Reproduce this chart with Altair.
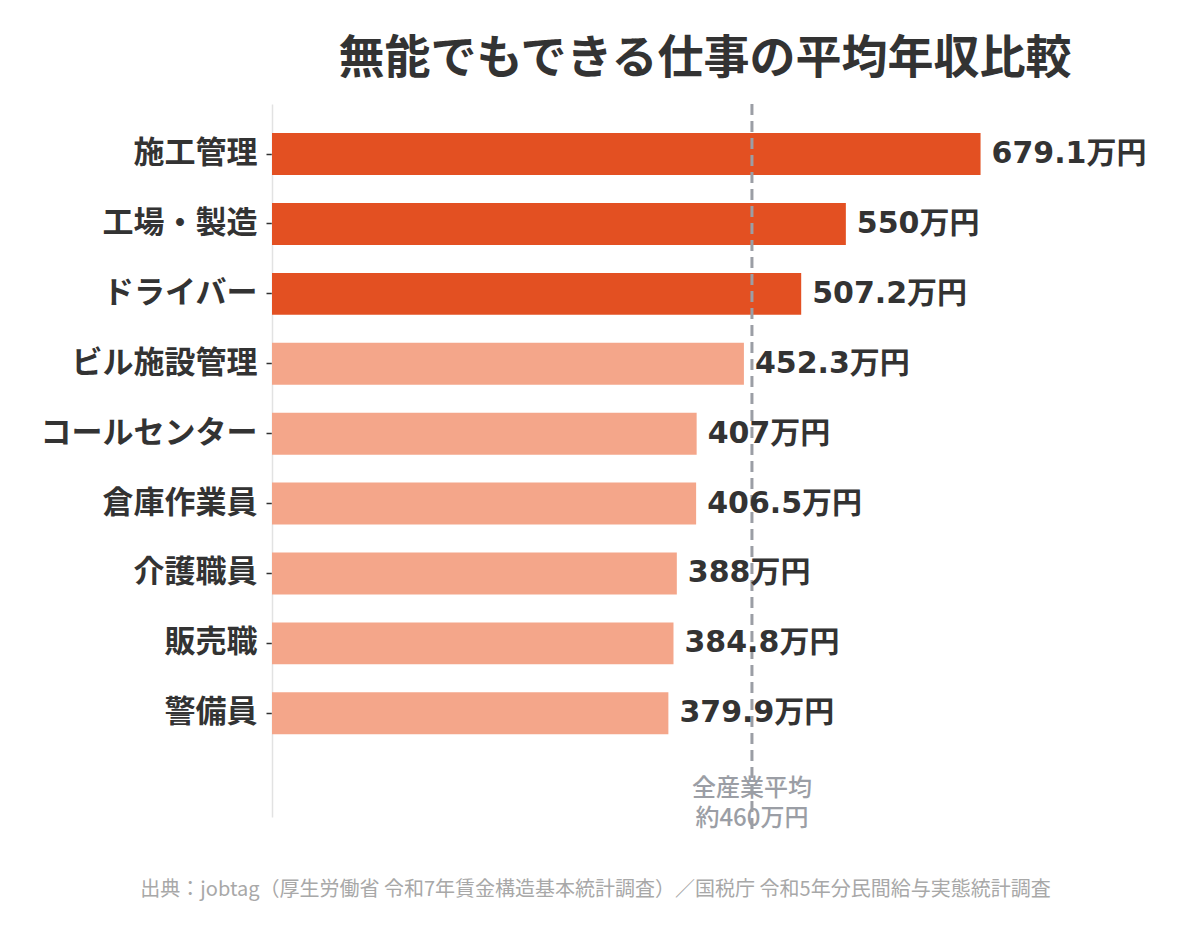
import altair as alt
import pandas as pd

# Job categories and average annual income (万円)
jobs = ["施工管理", "工場・製造", "ドライバー", "ビル施設管理", "コールセンター",
        "倉庫作業員", "介護職員", "販売職", "警備員"]
salaries = [679.1, 550, 507.2, 452.3, 407, 406.5, 388, 384.8, 379.9]
groups = ["上位", "上位", "上位", "その他", "その他", "その他", "その他", "その他", "その他"]

# All-industry average
average = 460
average_label = ["全産業平均", f"約{average}万円"]

source_note = "出典：jobtag（厚生労働省 令和7年賃金構造基本統計調査）／国税庁 令和5年分民間給与実態統計調査"
chart_title = "無能でもできる仕事の平均年収比較"

FONT = "Noto Sans CJK JP"
NUM_FONT = "DejaVu Sans, Noto Sans CJK JP"
W, H = 866, 713

df = pd.DataFrame({"job": jobs, "salary": salaries, "group": groups})
df["label"] = [f"{v:g}万円" for v in salaries]

avg_df = pd.DataFrame({"avg": [average], "text": [average_label]})

x_scale = alt.Scale(domain=[0, 830], nice=False)
y_enc = alt.Y(
    "job:N",
    sort=jobs,
    scale=alt.Scale(paddingInner=0.4, paddingOuter=0.8, align=0.26),
    axis=alt.Axis(
        title=None,
        labelFont=FONT,
        labelFontSize=31,
        labelFontWeight="bold",
        labelColor="#333333",
        labelLimit=500,
        labelPadding=9,
        tickSize=6,
        tickColor="#333333",
        tickWidth=1.5,
        domainColor="#e2e2e2",
        domainWidth=1.5,
        grid=False,
    ),
)

bars = alt.Chart(df).mark_bar().encode(
    y=y_enc,
    x=alt.X(
        "salary:Q",
        scale=x_scale,
        axis=alt.Axis(
            labels=False, ticks=False, domain=False, grid=False,
            title=source_note,
            titleFont=FONT,
            titleFontSize=20,
            titleFontWeight="normal",
            titleColor="#a8a8a8",
            titleX=323,
            titleY=72,
            titleAlign="center",
            titleBaseline="middle",
        ),
    ),
    color=alt.Color(
        "group:N",
        scale=alt.Scale(domain=["上位", "その他"], range=["#e35022", "#f4a68a"]),
        legend=None,
    ),
)

values = alt.Chart(df).mark_text(
    align="left", baseline="middle", dx=11,
    font=NUM_FONT, fontSize=30, fontWeight="bold", color="#333333",
).encode(
    y=alt.Y("job:N", sort=jobs),
    x=alt.X("salary:Q", scale=x_scale),
    text="label:N",
)

avg_rule = alt.Chart(avg_df).mark_rule(
    color="#9b9ea5", strokeWidth=3, strokeDash=[11, 6]
).encode(
    x=alt.X("avg:Q", scale=x_scale),
    y=alt.value(0),
    y2=alt.value(H + 14),
)

avg_text = alt.Chart(avg_df).mark_text(
    align="center", baseline="middle", lineHeight=30,
    font=FONT, fontSize=24, fontWeight=500, color="#9b9ea5",
).encode(
    x=alt.X("avg:Q", scale=x_scale),
    y=alt.value(H - 28),
    text="text",
)

chart = (
    alt.layer(bars, avg_rule, values, avg_text)
    .properties(
        width=W,
        height=H,
        background="white",
        padding={"left": 40, "top": 35, "right": 10, "bottom": 20},
        title=alt.TitleParams(
            chart_title,
            font=FONT,
            fontSize=46,
            fontWeight="bold",
            color="#333333",
            anchor="middle",
            frame="group",
            offset=20,
        ),
    )
    .configure_view(stroke=None, strokeWidth=0)
)

chart.save("out.html", embed_options={"renderer": "svg", "actions": False})
